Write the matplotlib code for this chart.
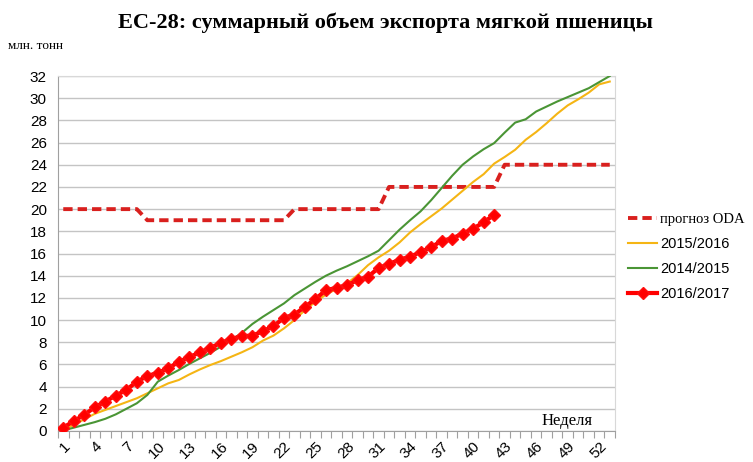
import matplotlib
matplotlib.use("Agg")
import matplotlib.pyplot as plt
import numpy as np

weeks = list(range(1, 54))

forecast_oda = [20]*8 + [19]*14 + [20]*9 + [22]*11 + [24]*11

y2015_2016 = [0.1, 0.55, 1.05, 1.55, 1.9, 2.25, 2.6, 2.95, 3.4, 3.85,
              4.3, 4.6, 5.1, 5.55, 5.95, 6.3, 6.7, 7.1, 7.55, 8.15,
              8.6, 9.25, 10.0, 10.9, 11.65, 12.3, 12.8, 13.3, 14.05, 14.95,
              15.65, 16.25, 17.0, 17.9, 18.65, 19.35, 20.05, 20.85, 21.65, 22.45,
              23.15, 24.1, 24.7, 25.35, 26.25, 26.95, 27.75, 28.6, 29.35, 29.9,
              30.5, 31.25, 31.5]

y2014_2015 = [0.05, 0.3, 0.55, 0.8, 1.1, 1.5, 2.0, 2.5, 3.25, 4.45,
              5.0, 5.5, 6.05, 6.55, 7.05, 7.6, 8.2, 8.85, 9.65, 10.3,
              10.9, 11.5, 12.25, 12.85, 13.45, 14.0, 14.45, 14.85, 15.3, 15.75,
              16.25, 17.2, 18.15, 19.0, 19.8, 20.8, 21.9, 23.0, 24.0, 24.75,
              25.4, 25.95, 26.9, 27.8, 28.1, 28.8, 29.25, 29.7, 30.1, 30.5,
              30.9, 31.45, 32.0]

y2016_2017 = [0.3, 0.9, 1.45, 2.15, 2.65, 3.2, 3.7, 4.45, 4.95, 5.25,
              5.65, 6.25, 6.65, 7.1, 7.5, 7.95, 8.3, 8.55, 8.6, 9.0,
              9.45, 10.2, 10.5, 11.2, 11.9, 12.7, 12.9, 13.15, 13.6, 13.9,
              14.7, 15.05, 15.45, 15.7, 16.15, 16.55, 17.15, 17.35, 17.8, 18.25,
              18.8, 19.5]

xtick_labels = [str(w) for w in range(1, 54, 3)]
yticks = list(range(0, 33, 2))

title = "ЕС-28: суммарный объем экспорта мягкой пшеницы"

serif = ["Liberation Serif", "DejaVu Serif"]
sans = ["Liberation Sans", "DejaVu Sans"]

fig = plt.figure(figsize=(7.53, 4.62), dpi=100)
ax = fig.add_axes([58/753, 1-431/462, (615-58)/753, (431-76)/462])

ax.plot(weeks, forecast_oda, color="#D9201E", lw=2.8, ls=(0, (2.4, 1.3)),
        label="прогноз ODA", zorder=3)
ax.plot(weeks, y2015_2016, color="#F5B514", lw=1.5, label="2015/2016", zorder=3)
ax.plot(weeks, y2014_2015, color="#4A9535", lw=1.5, label="2014/2015", zorder=3)
ax.plot(weeks[:len(y2016_2017)], y2016_2017, color="#FF0000", lw=3,
        marker="D", ms=6.5, mec="#FF1010", mfc="#FF0000", label="2016/2017", zorder=4)

ax.set_xlim(0.5, 53.5)
ax.set_ylim(0, 32)
ax.set_yticks(yticks)
ax.set_yticklabels([str(v) for v in yticks], fontfamily=sans, fontsize=11)
ax.set_xticks(list(range(1, 54, 3)))
ax.set_xticklabels(xtick_labels, fontfamily=sans, fontsize=11, rotation=45,
                   ha="right", va="top", rotation_mode="anchor")
ax.set_xticks(np.arange(0.5, 54, 1), minor=True)
ax.tick_params(axis="x", which="major", length=0, pad=6)
ax.tick_params(axis="x", which="minor", length=5, color="#a0a0a0", width=0.8)
ax.tick_params(axis="y", length=0, pad=8)
ax.grid(axis="y", color="#c4c4c4", lw=1)
ax.set_axisbelow(True)
for s in ["top", "right"]:
    ax.spines[s].set_color("#d8d8d8")
for s in ["left", "bottom"]:
    ax.spines[s].set_color("#a0a0a0")

ax.text(0.96, 0.005, "Неделя", transform=ax.transAxes, ha="right", va="bottom",
        fontfamily=serif, fontsize=12)

fig.text(385/753, 1-23/462, title, ha="center", va="center",
         fontfamily=serif, fontsize=16, fontweight="bold")
fig.text(8/753, 1-46/462, "млн. тонн", ha="left", va="center",
         fontfamily=serif, fontsize=9.5)

leg = fig.legend(loc="upper left", bbox_to_anchor=(615/753, 1-200/462),
                 frameon=False, fontsize=10.5, handlelength=2.0,
                 labelspacing=0.75, handletextpad=0.2)
for i, t in enumerate(leg.get_texts()):
    t.set_fontfamily(serif if i == 0 else sans)

fig.savefig("out.png", dpi=100)
